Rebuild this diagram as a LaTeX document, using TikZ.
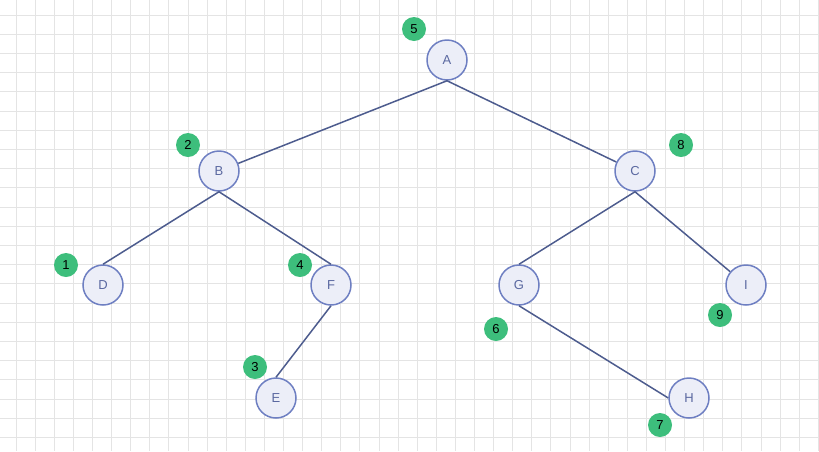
\documentclass[tikz,border=0pt]{standalone}
\usepackage{fontspec}
\setmainfont{Liberation Sans}
\usetikzlibrary{positioning}
\definecolor{gridline}{HTML}{E4E4E4}
\definecolor{nodefill}{HTML}{ECEEF8}
\definecolor{nodeedge}{HTML}{6E7FC2}
\definecolor{nodetext}{HTML}{5A68A0}
\definecolor{edgeblue}{HTML}{4D5C8E}
\definecolor{badgegreen}{HTML}{3DBE7C}
\tikzset{
  vert/.style={circle, draw=nodeedge, line width=1.5pt, fill=nodefill,
               minimum size=40pt, inner sep=0pt, text=nodetext,
               font=\fontsize{13}{15}\selectfont},
  badge/.style={circle, fill=badgegreen, minimum size=24pt, inner sep=0pt,
                text=black, font=\fontsize{13}{15}\selectfont},
  link/.style={draw=edgeblue, line width=1.5pt},
}
\begin{document}
\begin{tikzpicture}[x=1pt, y=-1pt]
  \useasboundingbox (0,0) rectangle (819,451);
  % background grid
  \foreach \gx in {0,...,42}
    \draw[gridline, line width=0.8pt] (16+19.1*\gx,0) -- (16+19.1*\gx,451);
  \foreach \gy in {0,...,22}
    \draw[gridline, line width=0.8pt] (0,15+19.2*\gy) -- (819,15+19.2*\gy);

  % tree
  \node (A) [vert] at (447,60)  {A};
  \node (B) [vert] at (219,171) {B};
  \node (C) [vert] at (635,171) {C};
  \node (D) [vert] at (103,285) {D};
  \node (F) [vert] at (331,285) {F};
  \node (G) [vert] at (519,285) {G};
  \node (I) [vert] at (746,285) {I};
  \node (E) [vert] at (276,398) {E};
  \node (H) [vert] at (689,398) {H};

  % visiting order
  \node (n1) [badge] at (66,265)  {1};
  \node (n2) [badge] at (188,145) {2};
  \node (n3) [badge] at (255,367) {3};
  \node (n4) [badge] at (300,265) {4};
  \node (n5) [badge] at (414,29)  {5};
  \node (n6) [badge] at (496,329) {6};
  \node (n7) [badge] at (660,425) {7};
  \node (n8) [badge] at (681,145) {8};
  \node (n9) [badge] at (720,315) {9};

  \draw[link] (A.south) -- (B);
  \draw[link] (A.south) -- (C);
  \draw[link] (B.south) -- (D.north);
  \draw[link] (B.south) -- (F.north);
  \draw[link] (F.south) -- (E.north);
  \draw[link] (C.south) -- (G.north);
  \draw[link] (C.south) -- (I);
  \draw[link] (G.south) -- (H.west);
\end{tikzpicture}
\end{document}
